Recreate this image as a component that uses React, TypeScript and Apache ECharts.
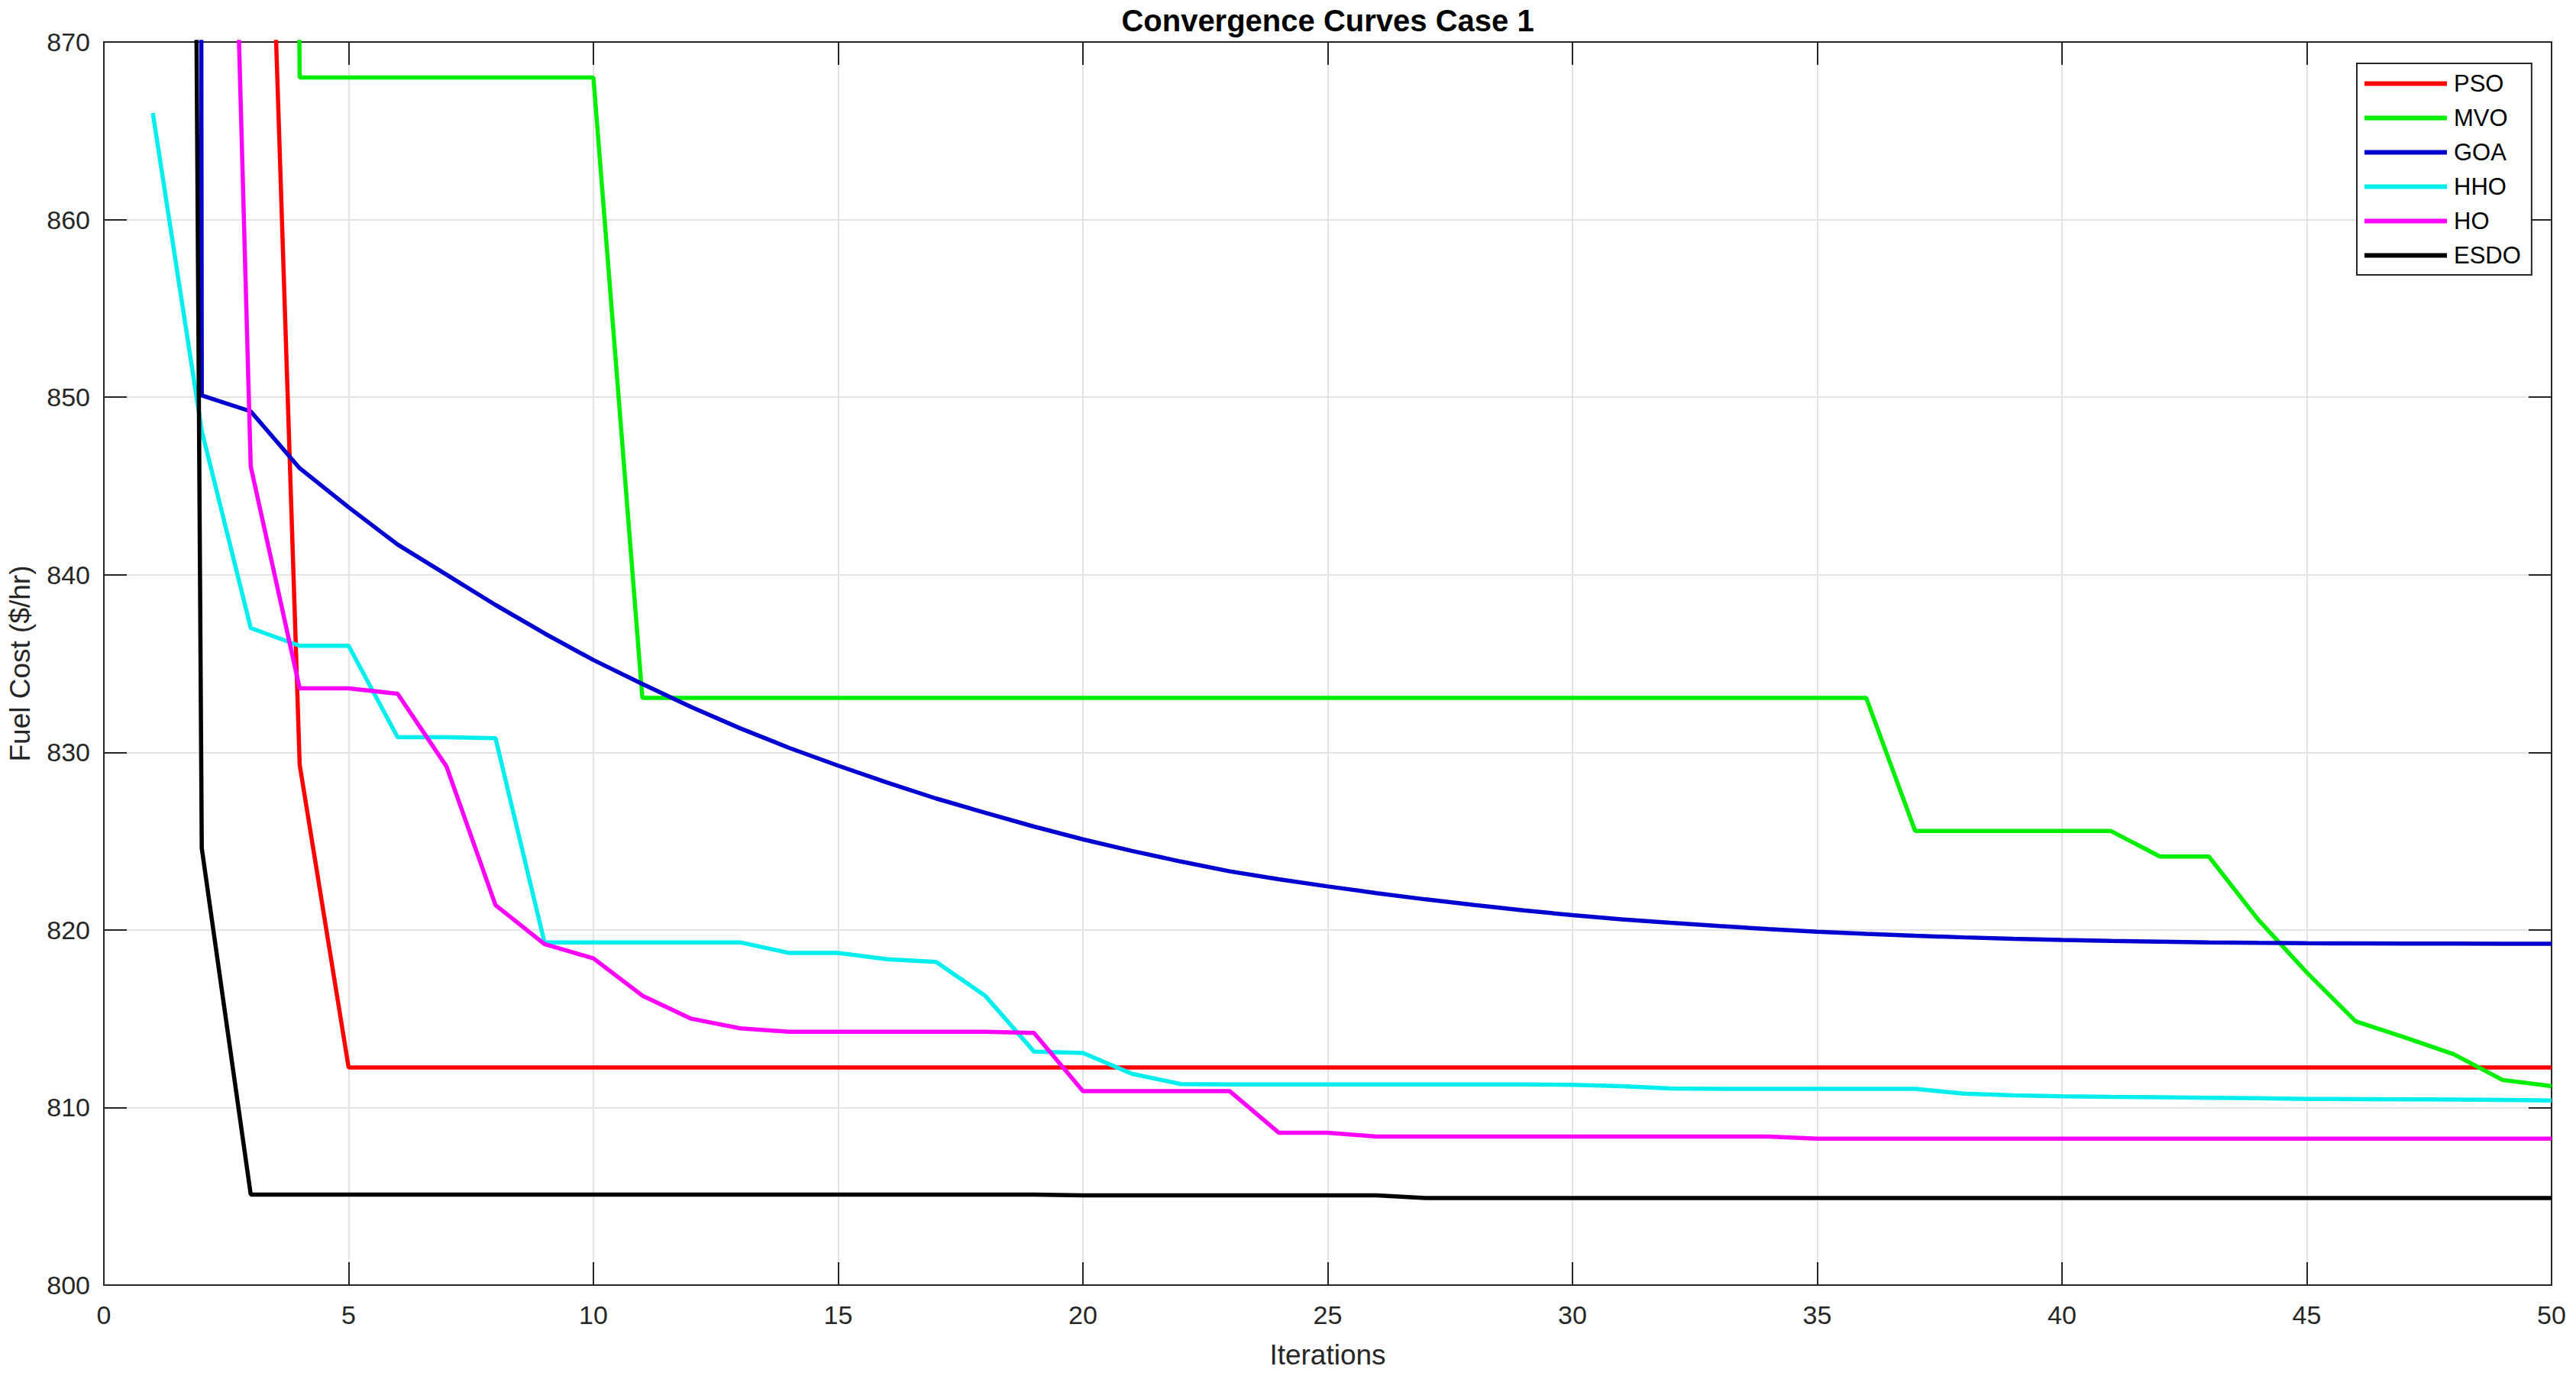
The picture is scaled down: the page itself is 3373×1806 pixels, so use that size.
import React, { useEffect, useRef } from "react";
import * as echarts from "echarts";

const iterations = [
  1, 2, 3, 4, 5, 6, 7, 8, 9, 10, 11, 12, 13, 14, 15, 16, 17, 18, 19, 20, 21, 22, 23, 24, 25,
  26, 27, 28, 29, 30, 31, 32, 33, 34, 35, 36, 37, 38, 39, 40, 41, 42, 43, 44, 45, 46, 47, 48, 49, 50,
];

const psoCost = [
  1000, 960, 914, 829.3, 812.25, 812.25, 812.25, 812.25, 812.25, 812.25,
  812.25, 812.25, 812.25, 812.25, 812.25, 812.25, 812.25, 812.25, 812.25, 812.25,
  812.25, 812.25, 812.25, 812.25, 812.25, 812.25, 812.25, 812.25, 812.25, 812.25,
  812.25, 812.25, 812.25, 812.25, 812.25, 812.25, 812.25, 812.25, 812.25, 812.25,
  812.25, 812.25, 812.25, 812.25, 812.25, 812.25, 812.25, 812.25, 812.25, 812.25,
];

const mvoCost = [
  1200, 1200, 1200, 868.0, 868.0, 868.0, 868.0, 868.0, 868.0, 868.0,
  833.07, 833.07, 833.07, 833.07, 833.07, 833.07, 833.07, 833.07, 833.07, 833.07,
  833.07, 833.07, 833.07, 833.07, 833.07, 833.07, 833.07, 833.07, 833.07, 833.07,
  833.07, 833.07, 833.07, 833.07, 833.07, 833.07, 825.57, 825.57, 825.57, 825.57,
  825.57, 824.13, 824.13, 820.6, 817.6, 814.85, 813.95, 813.0, 811.55, 811.2,
];

const goaCost = [
  3000, 850.1, 849.2, 846.0, 843.8, 841.7, 840.0, 838.3, 836.7, 835.2,
  833.85, 832.55, 831.35, 830.25, 829.25, 828.3, 827.4, 826.6, 825.82, 825.1,
  824.45, 823.85, 823.3, 822.85, 822.45, 822.07, 821.72, 821.4, 821.1, 820.83,
  820.6, 820.4, 820.22, 820.05, 819.9, 819.78, 819.67, 819.58, 819.5, 819.43,
  819.38, 819.34, 819.3, 819.27, 819.25, 819.24, 819.23, 819.23, 819.22, 819.22,
];

const hhoCost = [
  866.0, 848.1, 837.0, 836.0, 836.0, 830.85, 830.85, 830.8, 819.3, 819.3,
  819.3, 819.3, 819.3, 818.7, 818.7, 818.35, 818.2, 816.3, 813.15, 813.07,
  811.9, 811.32, 811.3, 811.3, 811.3, 811.3, 811.3, 811.3, 811.3, 811.28,
  811.2, 811.07, 811.05, 811.05, 811.05, 811.05, 811.05, 810.78, 810.68, 810.63,
  810.6, 810.58, 810.55, 810.52, 810.48, 810.47, 810.46, 810.45, 810.43, 810.4,
];

const hoCost = [
  1050, 946, 846.1, 833.6, 833.6, 833.3, 829.2, 821.4, 819.2, 818.4,
  816.3, 815.0, 814.46, 814.26, 814.26, 814.26, 814.26, 814.26, 814.2, 810.92,
  810.92, 810.92, 810.92, 808.58, 808.58, 808.36, 808.36, 808.36, 808.36, 808.36,
  808.36, 808.36, 808.36, 808.36, 808.24, 808.24, 808.24, 808.24, 808.24, 808.24,
  808.24, 808.24, 808.24, 808.24, 808.24, 808.24, 808.24, 808.24, 808.24, 808.24,
];

const esdoCost = [
  1250, 824.6, 805.1, 805.1, 805.1, 805.1, 805.1, 805.1, 805.1, 805.1,
  805.1, 805.1, 805.1, 805.1, 805.1, 805.1, 805.1, 805.1, 805.1, 805.05,
  805.05, 805.05, 805.05, 805.05, 805.05, 805.05, 804.9, 804.9, 804.9, 804.9,
  804.9, 804.9, 804.9, 804.9, 804.9, 804.9, 804.9, 804.9, 804.9, 804.9,
  804.9, 804.9, 804.9, 804.9, 804.9, 804.9, 804.9, 804.9, 804.9, 804.9,
];

const seriesNames = ["PSO", "MVO", "GOA", "HHO", "HO", "ESDO"];
const seriesColors = ["#ff0000", "#00ee00", "#0000d0", "#00eeee", "#ff00ff", "#000000"];
const seriesValues = [psoCost, mvoCost, goaCost, hhoCost, hoCost, esdoCost];

const FONT = "'Liberation Sans', Arial, Helvetica, sans-serif";
const AXIS_COLOR = "#262626";
const GRID_COLOR = "#e4e4e4";

export default function App() {
  const ref = useRef<HTMLDivElement>(null);

  useEffect(() => {
    if (!ref.current) return;
    const chart = echarts.init(ref.current, null, { renderer: "svg" });

    const gridLeft = 136;
    const gridRight = 32;
    const gridTop = 55;
    const gridBottom = 123;
    const plotCenterX = (gridLeft + (3373 - gridRight)) / 2;

    const baseX = {
      type: "value" as const,
      min: 0,
      max: 50,
      interval: 5,
    };
    const baseY = {
      type: "value" as const,
      min: 800,
      max: 870,
      interval: 10,
    };

    chart.setOption({
      animation: false,
      backgroundColor: "#ffffff",
      textStyle: { fontFamily: FONT },
      grid: {
        left: gridLeft,
        right: gridRight,
        top: gridTop,
        bottom: gridBottom,
        containLabel: false,
      },
      graphic: [
        {
          type: "text",
          x: plotCenterX,
          y: 27,
          style: {
            text: "Convergence Curves Case 1",
            font: `bold 40px ${FONT}`,
            fill: "#000000",
            textAlign: "center",
            textVerticalAlign: "middle",
          },
        },
      ],
      legend: {
        orient: "vertical",
        left: 3086,
        top: 83,
        padding: [11, 14, 10, 10],
        itemGap: 14,
        itemWidth: 108,
        itemHeight: 6,
        borderColor: AXIS_COLOR,
        borderWidth: 2,
        backgroundColor: "#ffffff",
        data: seriesNames.map((n) => ({ name: n, icon: "rect" })),
        textStyle: {
          fontSize: 31,
          color: "#000000",
          fontFamily: FONT,
          lineHeight: 30,
          padding: [0, 0, 0, 4],
        },
      },
      xAxis: [
        {
          ...baseX,
          position: "bottom",
          name: "Iterations",
          nameLocation: "middle",
          nameGap: 73,
          nameTextStyle: { fontSize: 37, color: AXIS_COLOR, fontFamily: FONT },
          axisLine: { show: true, onZero: false, lineStyle: { color: AXIS_COLOR, width: 2 } },
          axisTick: { show: true, inside: true, length: 30, lineStyle: { color: AXIS_COLOR, width: 2 } },
          axisLabel: { fontSize: 34, color: AXIS_COLOR, margin: 22, fontFamily: FONT },
          splitLine: { show: true, lineStyle: { color: GRID_COLOR, width: 2 } },
        },
        {
          ...baseX,
          position: "top",
          axisLine: { show: true, onZero: false, lineStyle: { color: AXIS_COLOR, width: 2 } },
          axisTick: { show: true, inside: true, length: 30, lineStyle: { color: AXIS_COLOR, width: 2 } },
          axisLabel: { show: false },
          splitLine: { show: false },
        },
      ],
      yAxis: [
        {
          ...baseY,
          position: "left",
          name: "Fuel Cost ($/hr)",
          nameLocation: "middle",
          nameGap: 91,
          nameTextStyle: { fontSize: 37, color: AXIS_COLOR, fontFamily: FONT },
          axisLine: { show: true, onZero: false, lineStyle: { color: AXIS_COLOR, width: 2 } },
          axisTick: { show: true, inside: true, length: 30, lineStyle: { color: AXIS_COLOR, width: 2 } },
          axisLabel: { fontSize: 34, color: AXIS_COLOR, margin: 18, fontFamily: FONT },
          splitLine: { show: true, lineStyle: { color: GRID_COLOR, width: 2 } },
        },
        {
          ...baseY,
          position: "right",
          axisLine: { show: true, onZero: false, lineStyle: { color: AXIS_COLOR, width: 2 } },
          axisTick: { show: true, inside: true, length: 30, lineStyle: { color: AXIS_COLOR, width: 2 } },
          axisLabel: { show: false },
          splitLine: { show: false },
        },
      ],
      series: seriesNames.map((name, si) => ({
        name,
        type: "line",
        xAxisIndex: 0,
        yAxisIndex: 0,
        data: iterations.map((it, i) => [it, seriesValues[si][i]]),
        symbol: "none",
        showSymbol: false,
        clip: true,
        color: seriesColors[si],
        itemStyle: { color: seriesColors[si] },
        lineStyle: { color: seriesColors[si], width: 5.5 },
        emphasis: { disabled: true },
      })),
    });

    return () => {
      chart.dispose();
    };
  }, []);

  return (
    <div
      ref={ref}
      style={{
        position: "fixed",
        left: 0,
        top: 0,
        width: "3373px",
        height: "1806px",
        background: "#ffffff",
      }}
    />
  );
}
